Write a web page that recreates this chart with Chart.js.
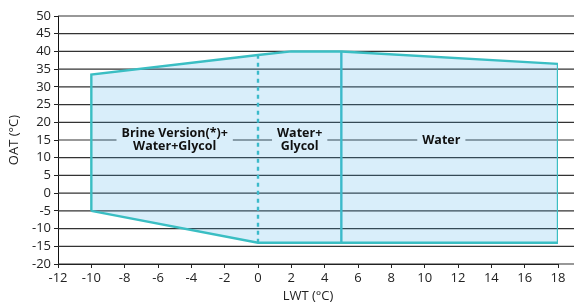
<!DOCTYPE html>
<html><head><meta charset="utf-8">
<script src="https://cdn.jsdelivr.net/npm/chart.js@4"></script>
<style>html,body{margin:0;padding:0;background:#fff}</style>
</head><body>
<canvas id="c" width="574" height="304"></canvas>
<script>
// Operating envelope outline (LWT °C, OAT °C)
const envelopeLWT = [-10, -10, 0, 2, 5, 18, 18, 0, -10];
const envelopeOAT = [-5, 33.5, 39, 40, 40, 36.5, -14, -14, -5];
// Brine / glycol limit (dashed) at LWT 0
const glycolLimitLWT = [0, 0];
const glycolLimitOAT = [-14, 39];
// Water limit (solid) at LWT 5
const waterLimitLWT = [5, 5];
const waterLimitOAT = [-14, 40];
// Axis ranges / tick steps
const xRange = [-12, 18];
const xStep = 2;
const yRange = [-20, 50];
const yStep = 5;
// Region labels
const regionText = [['Brine Version(*)+', 'Water+Glycol'], ['Water+', 'Glycol'], ['Water']];
const regionLWT = [-5, 2.5, 11];
const regionOAT = [15, 15, 15];

const teal = 'rgb(58,190,195)';
const toPts = (xs, ys) => xs.map((x, i) => ({x, y: ys[i]}));

const extGrid = {
  id: 'extGrid',
  beforeDatasetsDraw(chart) {
    const y = chart.scales.y, ctx = chart.ctx;
    ctx.save();
    ctx.strokeStyle = '#333';
    ctx.lineWidth = 1.2;
    y.ticks.forEach(t => {
      const py = y.getPixelForValue(t.value);
      ctx.beginPath();
      ctx.moveTo(chart.chartArea.left, py);
      ctx.lineTo(chart.width, py);
      ctx.stroke();
    });
    ctx.restore();
  }
};

const labelsPlugin = {
  id: 'regionLabels',
  afterDatasetsDraw(chart) {
    const ctx = chart.ctx, xs = chart.scales.x, ys = chart.scales.y;
    ctx.save();
    ctx.font = 'bold 12.5px "Open Sans"';
    ctx.textAlign = 'center';
    ctx.textBaseline = 'middle';
    const lh = 13;
    regionText.forEach((lines, i) => {
      const cx = xs.getPixelForValue(regionLWT[i]);
      const cy = ys.getPixelForValue(regionOAT[i]);
      const w = Math.max(...lines.map(l => ctx.measureText(l).width)) + 10;
      const h = lines.length * lh + 4;
      ctx.fillStyle = 'rgb(217,238,250)';
      ctx.fillRect(cx - w / 2, cy - h / 2, w, h);
      ctx.fillStyle = '#111';
      lines.forEach((l, k) => {
        ctx.fillText(l, cx, cy + (k - (lines.length - 1) / 2) * lh);
      });
    });
    ctx.restore();
  }
};

const tickFont = {family: 'Open Sans', size: 13};

new Chart(document.getElementById('c'), {
  type: 'scatter',
  data: {
    datasets: [
      {
        data: toPts(envelopeLWT, envelopeOAT),
        showLine: true,
        fill: 'shape',
        backgroundColor: 'rgba(65,170,230,0.2)',
        borderColor: teal,
        borderWidth: 2.4,
        pointRadius: 0,
        tension: 0
      },
      {
        data: toPts(glycolLimitLWT, glycolLimitOAT),
        showLine: true,
        borderColor: teal,
        borderWidth: 2.4,
        borderDash: [4, 4],
        pointRadius: 0
      },
      {
        data: toPts(waterLimitLWT, waterLimitOAT),
        showLine: true,
        borderColor: teal,
        borderWidth: 2.4,
        pointRadius: 0
      }
    ]
  },
  options: {
    responsive: false,
    animation: false,
    devicePixelRatio: 1,
    layout: {padding: {top: 16, right: 16, left: 0, bottom: 0}},
    plugins: {legend: {display: false}, tooltip: {enabled: false}},
    scales: {
      x: {
        type: 'linear', min: xRange[0], max: xRange[1],
        afterFit(s) { s.height = 40; },
        ticks: {stepSize: xStep, autoSkip: false, color: '#222', font: tickFont, padding: 2, maxRotation: 0},
        grid: {drawOnChartArea: false, tickLength: 4, color: '#222'},
        border: {display: true, color: '#111', width: 1},
        title: {display: true, text: 'LWT (°C)', color: '#222', font: tickFont, padding: {top: 0, bottom: 0}}
      },
      y: {
        type: 'linear', min: yRange[0], max: yRange[1],
        afterFit(s) { s.width = 58; },
        ticks: {stepSize: yStep, autoSkip: false, color: '#222', font: tickFont, padding: 3},
        grid: {drawOnChartArea: false, tickLength: 4, color: '#222'},
        border: {display: true, color: '#111', width: 1},
        title: {display: true, text: 'OAT (°C)', color: '#222', font: tickFont, padding: {top: 6, bottom: 0}}
      }
    }
  },
  plugins: [extGrid, labelsPlugin]
});
</script>
</body></html>
